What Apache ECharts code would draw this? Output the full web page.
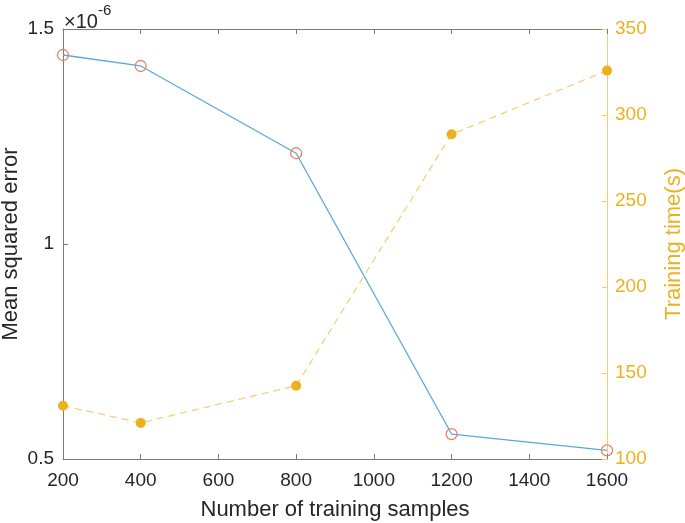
<!DOCTYPE html>
<html>
<head>
<meta charset="utf-8">
<script src="https://cdn.jsdelivr.net/npm/echarts@6/dist/echarts.min.js"></script>
<style>html,body{margin:0;padding:0;background:#fff}#c{width:685px;height:523px}</style>
</head>
<body>
<div id="c"></div>
<script>
const samples = [200, 400, 800, 1200, 1600];
const mse = [1.4395, 1.414, 1.211, 0.558, 0.520];       // ×10^-6
const trainTime = [131, 121, 142.6, 288.8, 325.8];        // seconds
const xTicks = [200, 400, 600, 800, 1000, 1200, 1400, 1600];
const leftTicks = [0.5, 1, 1.5];
const rightTicks = [100, 150, 200, 250, 300, 350];

const font = '"Liberation Sans", Arial, Helvetica, sans-serif';
const grey = '#7a7a7a';
const txt = '#262626';
const orange = '#EDB120';
const chart = echarts.init(document.getElementById('c'), null, {renderer: 'canvas'});
chart.setOption({
  animation: false,
  backgroundColor: '#fff',
  grid: {left: 63, right: 78, top: 29, bottom: 64, containLabel: false, outerBoundsMode: 'none'},
  graphic: [{
    type: 'text', left: 64, top: 3,
    style: {
      text: '{a|×10}{b|-6}',
      rich: {
        a: {fontFamily: font, fontSize: 20, fill: txt, padding: [9, 0, 0, 0]},
        b: {fontFamily: font, fontSize: 15, fill: txt, verticalAlign: 'top', padding: [0, 0, 9, 0]}
      }
    }
  }],
  xAxis: [{
    type: 'value', min: 200, max: 1600, interval: 200,
    name: 'Number of training samples', nameLocation: 'middle', nameGap: 40, nameMoveOverlap: false,
    nameTextStyle: {fontFamily: font, fontSize: 22, color: txt},
    axisLine: {show: true, lineStyle: {color: grey, width: 1}},
    axisTick: {show: true, inside: true, length: 5, lineStyle: {color: grey}},
    axisLabel: {fontFamily: font, fontSize: 19, color: txt, margin: 12,
      formatter: v => xTicks.includes(v) ? String(v) : ''},
    splitLine: {show: false}
  }, {
    type: 'value', position: 'top', min: 200, max: 1600, interval: 200,
    axisLine: {show: true, lineStyle: {color: grey, width: 1}},
    axisTick: {show: true, inside: true, length: 5, lineStyle: {color: grey}},
    axisLabel: {show: false}, splitLine: {show: false}
  }],
  yAxis: [{
    type: 'value', position: 'left', min: 0.5, max: 1.5, interval: 0.5,
    name: 'Mean squared error', nameLocation: 'middle', nameGap: 41, nameMoveOverlap: false,
    nameTextStyle: {fontFamily: font, fontSize: 22, color: txt},
    axisLine: {show: true, lineStyle: {color: grey, width: 1}},
    axisTick: {show: true, inside: true, length: 5, lineStyle: {color: grey}},
    axisLabel: {fontFamily: font, fontSize: 19, color: txt, margin: 9,
      formatter: v => leftTicks.includes(v) ? String(v) : ''},
    splitLine: {show: false}
  }, {
    type: 'value', position: 'right', min: 100, max: 350, interval: 50,
    name: 'Training time(s)', nameLocation: 'middle', nameGap: 56, nameRotate: 90, nameMoveOverlap: false,
    nameTextStyle: {fontFamily: font, fontSize: 22, color: orange},
    axisLine: {show: true, lineStyle: {color: '#F6CF6A', width: 1}},
    axisTick: {show: true, inside: true, length: 5, lineStyle: {color: '#F6CF6A'}},
    axisLabel: {fontFamily: font, fontSize: 19, color: orange, margin: 8,
      formatter: v => rightTicks.includes(v) ? String(v) : ''},
    splitLine: {show: false}
  }],
  series: [{
    type: 'line', xAxisIndex: 0, yAxisIndex: 0,
    data: samples.map((x, i) => [x, mse[i]]),
    lineStyle: {color: '#5BA8DB', width: 1.3},
    symbol: 'circle', symbolSize: 11,
    itemStyle: {color: 'rgba(255,255,255,0)', borderColor: '#E8835F', borderWidth: 1.3},
    z: 3
  }, {
    type: 'line', xAxisIndex: 0, yAxisIndex: 1,
    data: samples.map((x, i) => [x, trainTime[i]]),
    lineStyle: {color: '#F7D074', width: 1.3, type: [7, 5]},
    symbol: 'circle', symbolSize: 10,
    itemStyle: {color: orange, borderWidth: 0},
    z: 2
  }]
});
</script>
</body>
</html>
